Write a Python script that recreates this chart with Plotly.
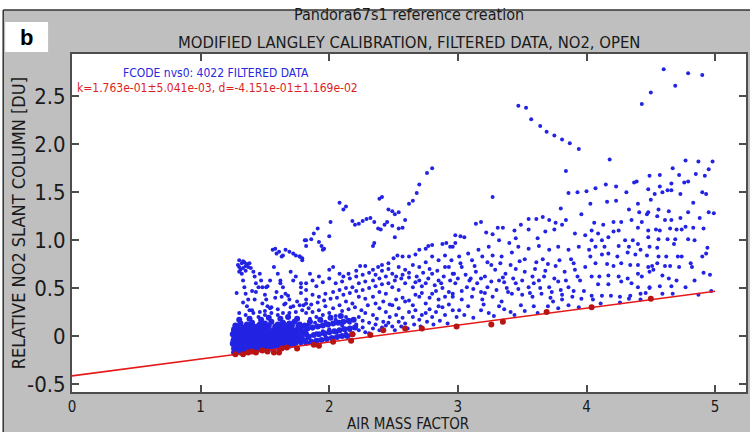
import plotly.graph_objects as go

# ---------------- data ----------------
k_slope = 0.1763
d_offset = -0.4151

fit_pts = [(1.27,-0.19),(1.33,-0.19),(1.37,-0.17),(1.40,-0.16),(1.43,-0.17),(1.48,-0.15),
           (1.52,-0.16),(1.57,-0.17),(1.61,-0.17),(1.63,-0.13),(1.67,-0.12),(1.75,-0.13),
           (1.88,-0.09),(1.92,-0.10),(2.03,-0.06),(2.17,-0.05),(2.18,0.02),(2.32,0.01),
           (2.42,0.06),(2.59,0.08),(2.72,0.08),(2.99,0.10),(3.26,0.12),(3.35,0.15),
           (3.69,0.25),(4.04,0.30),(4.50,0.39)]

# dense core near the fit line (drawn with slightly larger dots)
blob_pts = [
 (1.26,-0.17),(1.29,-0.16),(1.31,-0.17),(1.34,-0.15),(1.37,-0.16),(1.40,-0.15),(1.43,-0.14),
 (1.26,-0.13),(1.28,-0.12),(1.31,-0.13),(1.33,-0.11),(1.36,-0.12),(1.38,-0.13),(1.41,-0.11),
 (1.44,-0.12),(1.47,-0.11),(1.50,-0.12),(1.53,-0.10),(1.56,-0.11),(1.59,-0.10),(1.62,-0.09),
 (1.25,-0.08),(1.27,-0.07),(1.30,-0.09),(1.32,-0.07),(1.35,-0.08),(1.37,-0.06),(1.40,-0.08),
 (1.42,-0.07),(1.45,-0.06),(1.48,-0.08),(1.51,-0.06),(1.54,-0.07),(1.57,-0.05),(1.60,-0.06),
 (1.64,-0.05),(1.68,-0.07),(1.72,-0.06),
 (1.26,-0.03),(1.28,-0.02),(1.31,-0.04),(1.34,-0.02),(1.36,-0.03),(1.39,-0.01),(1.41,-0.03),
 (1.44,-0.02),(1.46,-0.04),(1.49,-0.01),(1.52,-0.03),(1.55,-0.02),(1.58,-0.01),(1.61,-0.03),
 (1.65,-0.02),(1.69,-0.01),(1.73,-0.03),(1.77,-0.02),
 (1.25,0.02),(1.27,0.03),(1.30,0.01),(1.33,0.03),(1.35,0.02),(1.38,0.04),(1.40,0.01),(1.43,0.02),
 (1.46,0.03),(1.48,0.01),(1.51,0.02),(1.54,0.04),(1.57,0.02),(1.60,0.03),(1.63,0.01),(1.67,0.03),
 (1.71,0.02),(1.75,0.04),(1.79,0.02),
 (1.26,0.07),(1.29,0.08),(1.32,0.06),(1.35,0.09),(1.38,0.07),(1.42,0.06),(1.45,0.08),(1.49,0.07),
 (1.52,0.09),(1.56,0.06),(1.59,0.08),(1.63,0.07),(1.66,0.09),(1.70,0.08),(1.74,0.06),(1.78,0.09),
 (1.27,0.11),(1.31,0.13),(1.36,0.12),(1.40,0.14),(1.46,0.12),(1.50,0.13),(1.55,0.15),(1.60,0.12),
 (1.64,0.14),(1.69,0.13),(1.73,0.15),(1.77,0.12),
 (1.30,0.17),(1.38,0.18),(1.47,0.17),(1.53,0.19),(1.62,0.18),(1.68,0.20),(1.75,0.18)]

blob_fill_pts = [
 (1.275,-0.15),(1.305,-0.15),(1.335,-0.17),(1.355,-0.14),(1.385,-0.15),(1.415,-0.13),(1.45,-0.14),
 (1.48,-0.13),(1.51,-0.14),(1.55,-0.13),(1.58,-0.12),(1.61,-0.12),(1.65,-0.11),(1.69,-0.10),(1.72,-0.09),
 (1.265,-0.10),(1.295,-0.11),(1.325,-0.10),(1.355,-0.10),(1.39,-0.10),(1.42,-0.09),(1.455,-0.09),
 (1.49,-0.10),(1.52,-0.09),(1.55,-0.09),(1.59,-0.08),(1.63,-0.07),(1.66,-0.08),(1.70,-0.08),
 (1.74,-0.07),(1.78,-0.06),
 (1.255,-0.05),(1.285,-0.05),(1.315,-0.06),(1.345,-0.05),(1.375,-0.04),(1.405,-0.05),(1.435,-0.04),
 (1.47,-0.05),(1.50,-0.04),(1.535,-0.05),(1.565,-0.04),(1.60,-0.04),(1.63,-0.05),(1.67,-0.04),
 (1.71,-0.04),(1.75,-0.05),(1.80,-0.04),
 (1.265,0.00),(1.295,-0.01),(1.325,0.00),(1.355,0.01),(1.385,0.00),(1.415,0.00),(1.45,0.01),
 (1.475,-0.01),(1.505,0.00),(1.535,0.01),(1.565,0.00),(1.595,0.01),(1.625,0.00),(1.66,0.01),
 (1.70,0.00),(1.74,0.01),(1.78,0.00),(1.82,0.02),
 (1.26,0.05),(1.285,0.05),(1.315,0.04),(1.345,0.05),(1.37,0.05),(1.40,0.04),(1.435,0.05),
 (1.465,0.05),(1.50,0.05),(1.53,0.04),(1.57,0.05),(1.61,0.05),(1.65,0.05),(1.69,0.05),(1.73,0.05),
 (1.77,0.06),(1.81,0.05),
 (1.28,0.10),(1.33,0.09),(1.37,0.10),(1.41,0.10),(1.44,0.10),(1.48,0.10),(1.53,0.11),(1.58,0.10),
 (1.62,0.10),(1.67,0.11),(1.71,0.11),(1.76,0.10),(1.81,0.11)]

blob_tail_pts = [
 (1.82,-0.07),(1.86,-0.06),(1.90,-0.05),(1.94,-0.04),(1.98,-0.03),(2.02,-0.02),(2.06,-0.01),
 (2.10,0.00),(2.14,0.00),(2.18,0.02),
 (1.84,-0.01),(1.88,0.01),(1.92,0.02),(1.96,0.03),(2.00,0.04),(2.04,0.05),(2.08,0.06),(2.12,0.07),
 (2.16,0.08),(2.20,0.09),
 (1.83,0.08),(1.87,0.09),(1.91,0.10),(1.95,0.11),(1.99,0.12),(2.03,0.13),(2.07,0.14),(2.11,0.15),
 (2.15,0.16),(2.19,0.17),
 (1.85,0.15),(1.93,0.17),(2.01,0.19),(2.09,0.21)]

low_scatter_pts = [
 (1.30,0.24),(1.35,0.22),(1.40,0.27),(1.45,0.20),(1.50,0.26),(1.55,0.30),(1.60,0.28),(1.65,0.33),
 (1.70,0.30),(1.75,0.36),(1.80,0.32),(1.33,0.35),(1.42,0.38),(1.48,0.34),(1.58,0.40),(1.68,0.42),
 (1.78,0.45),(1.28,0.45),(1.40,0.47),(1.52,0.52),(1.62,0.55),(1.72,0.58)]

left_pts = [
 (1.30,0.79),(1.32,0.76),(1.34,0.77),(1.36,0.75),(1.38,0.76),(1.30,0.72),(1.33,0.71),(1.37,0.72),
 (1.39,0.71),(1.30,0.67),(1.32,0.65),(1.35,0.68),(1.33,0.58),(1.34,0.51),(1.35,0.44),(1.37,0.38),
 (1.36,0.31),(1.41,0.67),(1.42,0.62),(1.43,0.55),(1.45,0.51),(1.43,0.46),(1.46,0.65),(1.47,0.58),
 (1.48,0.51),(1.50,0.43),(1.51,0.38),(1.52,0.31),(1.54,0.29),(1.56,0.90),(1.58,0.91),(1.59,0.86),
 (1.61,0.88),(1.63,0.83),(1.64,0.84),(1.66,0.90),(1.69,0.88),(1.72,0.86),(1.74,0.84),(1.77,0.83),
 (1.79,0.81),(1.81,1.00),(1.82,0.94),(1.57,0.72),(1.60,0.65),(1.62,0.58),(1.64,0.51),(1.66,0.44),
 (1.69,0.38),(1.70,0.67),(1.74,0.62),(1.78,0.55),(1.82,0.48),(1.54,0.58),(1.51,0.51),(1.59,0.46),
 (1.63,0.41),(1.66,0.34),(1.72,0.31),(1.77,0.32),(1.82,0.34),(1.38,0.27),(1.41,0.24),(1.46,0.25),
 (1.50,0.22),(1.55,0.24),(1.60,0.22),(1.64,0.24),(1.69,0.24),(1.74,0.25),(1.79,0.27),(1.84,0.29),
 (1.29,0.74),(1.31,0.69),(1.35,0.73),(1.33,0.78)]

mid_pts = [
 (2.80,1.75),(2.76,1.70),(2.70,1.58),(2.68,1.49),(2.65,1.41),(2.62,1.38),(2.41,1.45),(2.39,1.43),
 (2.08,1.39),(2.13,1.35),(2.11,1.32),(2.46,1.32),(2.49,1.30),(2.51,1.27),(2.54,1.29),(2.59,1.21),
 (2.01,1.19),(2.18,1.20),(2.20,1.16),(2.23,1.17),(2.26,1.20),(2.29,1.22),(2.32,1.23),(2.35,1.19),
 (2.38,1.12),(2.40,1.11),(2.43,1.16),(2.45,1.19),(2.49,1.15),(2.54,1.12),(2.57,1.13),(2.51,1.03),
 (2.35,0.97),(2.34,0.94),(1.91,1.12),(1.88,1.07),(1.86,1.01),(1.82,1.00),(1.92,0.98),(1.94,0.94),
 (1.96,0.91),(2.00,1.04),(1.95,0.90),(1.77,0.83),(1.79,0.79),
 (2.98,1.05),(2.91,0.97),(2.88,0.96),(2.77,0.94),(2.80,0.95),(2.75,0.91),(2.70,0.90),(2.67,0.85),
 (2.62,0.83),(2.57,0.83),(2.53,0.84),(2.50,0.81),(2.46,0.76),(2.41,0.74),(2.38,0.72),(2.34,0.69),
 (2.28,0.73),(2.24,0.73),(2.21,0.68),(2.15,0.65),(2.11,0.62),(2.08,0.65),(2.03,0.72),(2.00,0.69),
 (1.92,0.62),(1.87,0.58),(1.82,0.55),(1.78,0.51),
 (2.96,0.93),(2.90,0.84),(2.85,0.79),(2.80,0.83),(2.75,0.77),(2.70,0.72),(2.65,0.74),(2.59,0.69),
 (2.54,0.72),(2.49,0.65),(2.44,0.62),(2.39,0.60),(2.34,0.58),(2.28,0.57),(2.23,0.55),(2.18,0.51),
 (2.13,0.50),(2.08,0.48),(2.03,0.46),(1.97,0.44),(1.92,0.41),(1.87,0.43),(1.82,0.38),
 (2.96,0.65),(2.90,0.72),(2.85,0.58),(2.80,0.65),(2.75,0.55),(2.70,0.58),(2.65,0.51),(2.59,0.55),
 (2.54,0.48),(2.49,0.51),(2.44,0.44),(2.39,0.46),(2.34,0.41),(2.28,0.39),(2.23,0.41),(2.18,0.34),
 (2.13,0.36),(2.08,0.32),(2.03,0.29),(1.97,0.31),(1.92,0.27),(1.87,0.25),(1.82,0.24),
 (2.96,0.44),(2.90,0.41),(2.85,0.38),(2.80,0.44),(2.75,0.34),(2.70,0.41),(2.65,0.32),(2.59,0.36),
 (2.54,0.29),(2.49,0.32),(2.44,0.25),(2.39,0.29),(2.34,0.22),(2.28,0.24),(2.23,0.20),(2.18,0.17),
 (2.13,0.20),(2.08,0.15),(2.03,0.13),(1.97,0.15),(1.92,0.10),(1.87,0.08),(1.82,0.06),
 (2.96,0.27),(2.90,0.22),(2.85,0.31),(2.80,0.20),(2.75,0.24),(2.70,0.17),(2.65,0.20),(2.59,0.13),
 (2.54,0.15),(2.49,0.10),(2.44,0.11),(2.39,0.06),(2.34,0.08),(2.28,0.04),(2.23,0.06),(2.18,0.01),
 (2.13,0.03),(2.08,0.00),(2.03,-0.02),(1.97,0.00),(1.92,-0.04),(1.87,-0.06),(1.82,-0.04),(1.78,-0.08)]

mid_fill_pts = [
 (1.85,0.18),(1.90,0.20),(1.95,0.22),(2.00,0.24),(2.05,0.21),(2.10,0.26),(2.15,0.28),(2.20,0.30),
 (2.25,0.27),(2.30,0.32),(2.36,0.34),(2.42,0.36),(2.47,0.33),(2.52,0.38),(2.57,0.40),(2.62,0.37),
 (2.67,0.43),(2.72,0.45),(2.78,0.40),(2.83,0.47),(2.88,0.50),(2.93,0.46),
 (1.84,0.12),(1.89,0.14),(1.94,0.16),(1.99,0.12),(2.05,0.17),(2.10,0.11),(2.16,0.14),(2.21,0.12),
 (2.26,0.16),(2.31,0.14),(2.37,0.18),(2.42,0.15),(2.47,0.20),(2.52,0.22),(2.57,0.19),(2.62,0.25),
 (2.67,0.27),(2.72,0.22),(2.78,0.28),(2.83,0.25),(2.88,0.30),(2.93,0.33),
 (1.85,0.00),(1.90,0.03),(1.95,0.05),(2.00,0.07),(2.06,0.04),(2.11,0.08),(2.16,0.06),(2.21,0.10),
 (2.26,0.09),(2.31,0.03),(2.36,0.12),(2.41,0.09),(2.46,0.14),(2.51,0.06),(2.56,0.10),(2.61,0.08),
 (2.66,0.12),(2.71,0.10),(2.76,0.15),(2.81,0.12),(2.86,0.16),(2.92,0.13),
 (1.85,0.65),(1.90,0.52),(1.95,0.56),(2.00,0.60),(2.05,0.55),(2.10,0.57),(2.16,0.60),(2.21,0.62),
 (2.26,0.64),(2.31,0.66),(2.36,0.64),(2.41,0.68),(2.46,0.70),(2.52,0.62),(2.57,0.64),(2.62,0.66),
 (2.68,0.62),(2.73,0.66),(2.78,0.70),(2.84,0.68),(2.89,0.62),(2.94,0.58),
 (1.86,0.33),(1.91,0.35),(1.96,0.37),(2.01,0.39),(2.06,0.40),(2.11,0.43),(2.16,0.45),(2.21,0.47),
 (2.26,0.48),(2.31,0.50),(2.36,0.52),(2.41,0.54),(2.46,0.55),(2.51,0.58),(2.56,0.60),(2.62,0.61),
 (2.67,0.56),(2.72,0.52),(2.77,0.60),(2.82,0.53),(2.87,0.55),(2.93,0.72)]

right1_pts = [
 (3.27,1.45),(3.86,1.49),(3.93,1.50),(4.00,1.51),(4.07,1.54),(3.80,1.33),(4.03,1.38),(3.96,1.27),
 (4.06,1.18),(3.14,1.17),(3.18,1.19),(3.05,1.03),(3.02,1.04),(2.98,0.97),(2.94,0.93),(3.22,1.08),
 (3.27,1.06),(3.31,1.13),(3.35,1.13),(3.44,1.10),(3.49,1.16),(3.55,1.22),(3.61,1.22),(3.66,1.24),
 (3.71,1.21),(3.76,1.18),(3.84,1.21),(3.45,1.02),(3.55,1.11),(3.62,1.02),(3.68,1.09),(3.75,1.11),
 (3.81,1.16),(3.91,1.07),(3.99,1.05),(4.04,1.10),(3.32,1.00),(3.40,0.97),(3.24,0.93),(3.16,0.90),
 (3.08,0.86),(3.01,0.83),(2.95,0.79),(3.03,0.72),(3.11,0.79),(3.19,0.83),(3.27,0.84),(3.34,0.83),
 (3.42,0.87),(3.47,0.93),(3.55,0.91),(3.63,0.94),(3.71,0.90),(3.78,0.93),(3.86,0.90),(3.94,0.93),
 (4.02,0.90),(2.97,0.65),(3.06,0.64),(3.14,0.67),(3.21,0.62),(3.29,0.69),(3.37,0.65),(3.45,0.70),
 (3.52,0.67),(3.60,0.70),(3.68,0.68),(3.76,0.73),(3.83,0.67),(3.91,0.69),(3.99,0.72),(2.98,0.55),
 (3.07,0.51),(3.15,0.55),(3.23,0.51),(3.32,0.58),(3.38,0.50),(3.45,0.55),(3.55,0.51),(3.63,0.58),
 (3.71,0.51),(3.78,0.57),(3.86,0.51),(3.95,0.58),(2.96,0.41),(3.03,0.38),(3.11,0.41),(3.19,0.38),
 (3.27,0.41),(3.34,0.36),(3.42,0.44),(3.50,0.43),(3.58,0.41),(3.65,0.44),(3.73,0.46),(3.81,0.43),
 (3.89,0.41),(3.96,0.39),(3.01,0.27),(3.08,0.31),(3.18,0.27),(3.24,0.24),(3.32,0.31),(3.41,0.25),
 (3.49,0.32),(3.59,0.31),(3.81,0.38),(3.10,0.60),(3.18,0.46),(3.26,0.74),(3.36,0.56),(3.48,0.78),
 (3.58,0.62),(3.66,0.80),(3.74,0.36),(3.88,0.80),(3.98,0.47)]

right1_fill_pts = [
 (2.99,0.20),(3.05,0.22),(3.12,0.19),(3.20,0.33),(3.28,0.21),(3.36,0.28),(3.44,0.22),(3.52,0.26),
 (3.62,0.24),(3.70,0.31),(3.78,0.29),(3.86,0.32),(3.94,0.30),(3.03,0.47),(3.12,0.49),(3.21,0.45),
 (3.30,0.48),(3.39,0.46),(3.47,0.49),(3.56,0.45),(3.64,0.50),(3.72,0.40),(3.80,0.48),(3.90,0.47),
 (3.00,0.60),(3.09,0.58),(3.18,0.60),(3.26,0.57),(3.35,0.61),(3.43,0.60),(3.50,0.58),(3.59,0.55),
 (3.67,0.62),(3.75,0.60),(3.84,0.58),(3.93,0.62),(3.02,0.76),(3.13,0.73),(3.23,0.77),(3.33,0.76),
 (3.41,0.74),(3.52,0.80),(3.61,0.77),(3.70,0.75),(3.79,0.79),(3.90,0.76)]

right2_pts = [
 (4.18,1.84),(4.77,1.83),(4.87,1.82),(4.98,1.82),(4.67,1.75),(4.85,1.69),(4.49,1.67),(4.57,1.68),
 (4.72,1.68),(4.92,1.67),(4.37,1.60),(4.23,1.56),(4.15,1.58),(4.31,1.50),(4.39,1.61),
 (4.48,1.53),(4.57,1.56),(4.63,1.52),(4.79,1.61),(4.76,1.60),(4.95,1.74),(4.66,1.59),(4.90,1.50),
 (4.93,1.48),(4.53,1.48),(4.59,1.50),(4.66,1.52),(4.73,1.48),(4.83,1.39),(4.40,1.38),(4.50,1.42),
 (4.23,1.41),(4.16,1.40),(4.33,1.32),(4.41,1.29),(4.48,1.29),(4.56,1.32),(4.64,1.30),
 (4.73,1.23),(4.79,1.29),(4.88,1.23),(4.95,1.29),(4.99,1.28),(4.13,1.16),(4.21,1.19),
 (4.27,1.19),(4.35,1.21),(4.43,1.19),(4.47,1.27),(4.55,1.25),(4.61,1.21),(4.66,1.21),(4.77,1.14),
 (4.83,1.13),(4.91,1.12),(4.65,1.12),(4.70,1.11),(4.74,1.11),(4.54,1.11),(4.57,1.10),(4.48,1.10),
 (4.40,1.13),(4.25,1.10),(4.21,1.09),(4.17,1.03),(4.09,1.07),(4.04,1.00),(4.12,1.00),(4.07,0.93),
 (4.14,0.93),(4.25,0.94),(4.33,0.93),(4.40,0.96),(4.48,1.03),(4.56,1.01),(4.63,1.01),(4.69,1.01),
 (4.79,1.01),(4.84,1.00),(4.94,0.92),(4.93,0.86),(4.90,0.83),(4.30,1.00),(4.36,1.00),(4.42,0.90),
 (4.49,0.93),(4.55,0.92),(4.68,0.96),(4.17,0.86),(4.24,0.83),(4.32,0.87),(4.38,0.85),(4.47,0.84),
 (4.56,0.83),(4.62,0.83),(4.71,0.83),(4.74,0.83),(4.81,0.76),(4.03,0.83),(4.12,0.85),(4.07,0.76),
 (4.16,0.75),(4.21,0.73),(4.27,0.76),(4.34,0.74),(4.40,0.74),(4.48,0.72),(4.51,0.73),(4.55,0.76),
 (4.61,0.73),(4.65,0.73),(4.72,0.72),(4.82,0.72),(4.91,0.66),(4.96,0.64),(4.04,0.62),(4.10,0.62),
 (4.17,0.63),(4.25,0.62),(4.32,0.60),(4.40,0.65),(4.43,0.62),(4.49,0.67),(4.52,0.69),(4.59,0.63),
 (4.64,0.60),(4.70,0.58),(4.09,0.54),(4.17,0.54),(4.27,0.57),(4.35,0.55),(4.40,0.51),(4.49,0.51),
 (4.57,0.52),(4.66,0.52),(4.77,0.51),(4.84,0.58),(4.04,0.42),(4.12,0.42),(4.19,0.42),(4.26,0.41),
 (4.33,0.39),(4.42,0.44),(4.49,0.50),(4.59,0.44),(4.67,0.44),(4.87,0.43),(4.05,0.38),(4.11,0.34),
 (4.26,0.35),(4.34,0.42),(4.42,0.38),(4.46,0.45),(4.97,0.47)]

outlier_pts = [
 (3.47,2.40),(3.53,2.38),(3.57,2.26),(3.64,2.19),(3.69,2.13),(3.75,2.09),(3.81,2.05),(3.87,2.01),
 (3.94,1.95),(3.84,1.72),(4.43,2.42),(4.50,2.54),(4.60,2.78),(4.69,2.61),(4.79,2.74),(4.90,2.72)]

x_ticks = [0, 1, 2, 3, 4, 5]
x_tick_text = ["0", "1", "2", "3", "4", "5"]
y_ticks = [-0.5, 0, 0.5, 1.0, 1.5, 2.0, 2.5]
y_tick_text = ["-0.5", "0", "0.5", "1.0", "1.5", "2.0", "2.5"]
line_x = [0, 5]

# ---------------- figure ----------------
dense_groups = [blob_pts, blob_fill_pts, blob_tail_pts]
sparse_groups = [low_scatter_pts, left_pts, mid_pts, mid_fill_pts,
                 right1_pts, right1_fill_pts, right2_pts, outlier_pts]

FONT = "Liberation Sans Narrow, DejaVu Sans Condensed, Roboto Condensed, Liberation Sans, sans-serif"
BLUE = "rgb(35,35,228)"

fig = go.Figure()
fig.add_trace(go.Scatter(x=[p[0] for g in sparse_groups for p in g],
                         y=[p[1] for g in sparse_groups for p in g], mode="markers",
                         marker=dict(color=BLUE, size=4, line=dict(width=0)),
                         showlegend=False, hoverinfo="skip"))
fig.add_trace(go.Scatter(x=[p[0] for g in dense_groups for p in g],
                         y=[p[1] for g in dense_groups for p in g], mode="markers",
                         marker=dict(color=BLUE, size=6, line=dict(width=0)),
                         showlegend=False, hoverinfo="skip"))
fig.add_trace(go.Scatter(x=line_x, y=[d_offset + k_slope * v for v in line_x], mode="lines",
                         line=dict(color="rgb(230,25,25)", width=1.6),
                         showlegend=False, hoverinfo="skip"))
fig.add_trace(go.Scatter(x=[p[0] for p in fit_pts], y=[p[1] for p in fit_pts], mode="markers",
                         marker=dict(color="rgb(185,20,20)", size=6, line=dict(width=0)),
                         showlegend=False, hoverinfo="skip"))

W, H = 750, 432
L, R, T, B = 72, 2, 54, 40
pw, ph = W - L - R, H - T - B


def px(x):
    return (x - L) / pw


def py(y):
    return (H - B - y) / ph


axis_common = dict(showline=True, linecolor="#4d4d4d", linewidth=2, mirror="ticks",
                   ticks="inside", ticklen=7, tickwidth=1.5, tickcolor="#4d4d4d",
                   showgrid=False, zeroline=False)

fig.update_layout(
    width=W, height=H,
    margin=dict(l=L, r=R, t=T, b=B),
    paper_bgcolor="#bfbfbf", plot_bgcolor="white",
    xaxis=dict(range=[0, 5.24], tickvals=x_ticks, ticktext=x_tick_text,
               tickfont=dict(family=FONT, size=15, color="#1a1a1a"), **axis_common),
    yaxis=dict(range=[-0.583, 2.94], tickvals=y_ticks, ticktext=y_tick_text,
               tickfont=dict(family=FONT, size=22, color="#1a1a1a"), **axis_common),
    shapes=[
        dict(type="rect", xref="paper", yref="paper", x0=-0.2, x1=1.2, y0=py(10), y1=py(-20),
             fillcolor="white", line=dict(width=0), layer="above"),
        dict(type="rect", xref="paper", yref="paper", x0=px(-20), x1=px(3), y0=py(500), y1=py(-20),
             fillcolor="white", line=dict(width=0), layer="above"),
        dict(type="line", xref="paper", yref="paper", x0=px(3), x1=px(760), y0=py(10), y1=py(10),
             line=dict(color="#333333", width=1.5)),
        dict(type="line", xref="paper", yref="paper", x0=px(3), x1=px(3), y0=py(10), y1=py(440),
             line=dict(color="#333333", width=1.5)),
        dict(type="rect", xref="paper", yref="paper", x0=px(5), x1=px(48), y0=py(52), y1=py(22),
             fillcolor="white", line=dict(width=0)),
    ],
    annotations=[
        dict(text="<b>b</b>", x=px(26), y=py(37), xref="paper", yref="paper", showarrow=False,
             xanchor="center", yanchor="middle",
             font=dict(family="Liberation Sans, Arial, sans-serif", size=22, color="black")),
        dict(text="Pandora67s1 reference creation", x=px(410), y=py(15), xref="paper", yref="paper",
             showarrow=False, xanchor="center", yanchor="middle",
             font=dict(family=FONT, size=16, color="#1a1a1a")),
        dict(text="MODIFIED LANGLEY CALIBRATION, FILTERED DATA, NO2, OPEN", x=px(410), y=py(42),
             xref="paper", yref="paper", showarrow=False, xanchor="center", yanchor="middle",
             font=dict(family=FONT, size=16.5, color="#1a1a1a")),
        dict(text="FCODE nvs0: 4022 FILTERED DATA", x=px(216), y=py(73), xref="paper", yref="paper",
             showarrow=False, xanchor="center", yanchor="middle",
             font=dict(family=FONT, size=12, color="rgb(40,40,220)")),
        dict(text="k=1.763e-01\u00b15.041e-03, d=-4.151e-01\u00b11.169e-02", x=px(218), y=py(88),
             xref="paper", yref="paper", showarrow=False, xanchor="center", yanchor="middle",
             font=dict(family=FONT, size=12, color="rgb(220,30,30)")),
        dict(text="RELATIVE NO2 SLANT COLUMN [DU]", x=px(18), y=py(223), xref="paper", yref="paper",
             showarrow=False, xanchor="center", yanchor="middle", textangle=-90,
             font=dict(family=FONT, size=18, color="#1a1a1a")),
        dict(text="AIR MASS FACTOR", x=px(409), y=py(423.5), xref="paper", yref="paper",
             showarrow=False, xanchor="center", yanchor="middle",
             font=dict(family=FONT, size=15, color="#1a1a1a")),
    ],
)

fig.write_html("out.html", config={"displayModeBar": False},
               post_script="document.body.style.margin='0';document.body.style.overflow='hidden';")
